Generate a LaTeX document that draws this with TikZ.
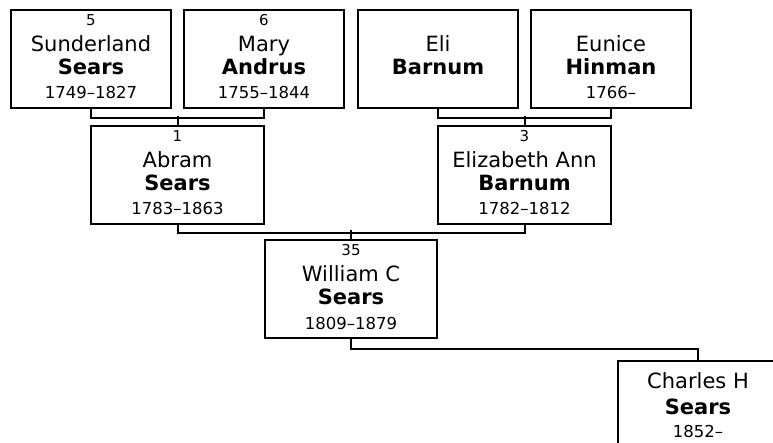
\documentclass[tikz,border=0pt]{standalone}
\usepackage{fontspec}
\setmainfont{DejaVu Sans}
\begin{document}
\begin{tikzpicture}[x=1bp,y=-1bp,
  pbox/.style={draw=black, line width=2bp, fill=white, rectangle, inner sep=0pt,
    anchor=north west, minimum height=98bp, minimum width=#1},
  numf/.style={anchor=base, inner sep=0pt, font=\fontsize{15bp}{18bp}\selectfont},
  firstf/.style={anchor=base, inner sep=0pt, font=\fontsize{21bp}{25bp}\selectfont},
  lastf/.style={anchor=base, inner sep=0pt, font=\fontsize{21bp}{25bp}\selectfont\bfseries},
  datef/.style={anchor=base, inner sep=0pt, font=\fontsize{16.5bp}{20bp}\selectfont},
  link/.style={draw=black, line width=2bp}
]
\useasboundingbox (0,0) rectangle (773,443);
\fill[white] (0,0) rectangle (773,443);
\begin{scope}
\clip (0,0) rectangle (773,443);
% grandparents
\node[pbox=160bp] (s5) at (10,9) {};
\node[pbox=160bp] (s6) at (183,9) {};
\node[pbox=160bp] (s7) at (357,9) {};
\node[pbox=160bp] (s8) at (530,9) {};
% parents
\node[pbox=173bp] (s1) at (90,125) {};
\node[pbox=173bp] (s3) at (437,125) {};
% subject
\node[pbox=172bp] (s35) at (264,239) {};
% child
\node[pbox=160bp] (c1) at (617,360) {};

% texts
\node[numf]   (s5a) at ([yshift=-17bp]s5.north) {5};
\node[firstf] (s5b) at ([yshift=-43bp]s5.north) {Sunderland};
\node[lastf]  (s5c) at ([yshift=-66bp]s5.north) {Sears};
\node[datef]  (s5d) at ([yshift=-90bp]s5.north) {1749–1827};

\node[numf]   (s6a) at ([yshift=-17bp]s6.north) {6};
\node[firstf] (s6b) at ([yshift=-43bp]s6.north) {Mary};
\node[lastf]  (s6c) at ([yshift=-66bp]s6.north) {Andrus};
\node[datef]  (s6d) at ([yshift=-90bp]s6.north) {1755–1844};

\node[firstf] (s7b) at ([yshift=-43bp]s7.north) {Eli};
\node[lastf]  (s7c) at ([yshift=-66bp]s7.north) {Barnum};

\node[firstf] (s8b) at ([yshift=-43bp]s8.north) {Eunice};
\node[lastf]  (s8c) at ([yshift=-66bp]s8.north) {Hinman};
\node[datef]  (s8d) at ([yshift=-90bp]s8.north) {1766–};

\node[numf]   (s1a) at ([yshift=-17bp]s1.north) {1};
\node[firstf] (s1b) at ([yshift=-43bp]s1.north) {Abram};
\node[lastf]  (s1c) at ([yshift=-66bp]s1.north) {Sears};
\node[datef]  (s1d) at ([yshift=-90bp]s1.north) {1783–1863};

\node[numf]   (s3a) at ([yshift=-17bp]s3.north) {3};
\node[firstf] (s3b) at ([yshift=-43bp]s3.north) {Elizabeth Ann};
\node[lastf]  (s3c) at ([yshift=-66bp]s3.north) {Barnum};
\node[datef]  (s3d) at ([yshift=-90bp]s3.north) {1782–1812};

\node[numf]   (s35a) at ([yshift=-17bp]s35.north) {35};
\node[firstf] (s35b) at ([yshift=-43bp]s35.north) {William C};
\node[lastf]  (s35c) at ([yshift=-66bp]s35.north) {Sears};
\node[datef]  (s35d) at ([yshift=-90bp]s35.north) {1809–1879};

\node[firstf] (c1b) at ([yshift=-28bp]c1.north) {Charles H};
\node[lastf]  (c1c) at ([yshift=-54bp]c1.north) {Sears};
\node[datef]  (c1d) at ([yshift=-77bp]c1.north) {1852–};

% connectors
\draw[link] (s5.south) -- ++(0,9) -| (s6.south);
\draw[link] (s1.north) -- ++(0,-9);
\draw[link] (s7.south) -- ++(0,9) -| (s8.south);
\draw[link] (s3.north) -- ++(0,-9);
\draw[link] (s1.south) -- ++(0,8) -| (s3.south);
\draw[link] (s35.north) -- ++(0,-9);
\draw[link] (s35.south) -- ++(0,10) -| (c1.north);
\end{scope}
\end{tikzpicture}
\end{document}
